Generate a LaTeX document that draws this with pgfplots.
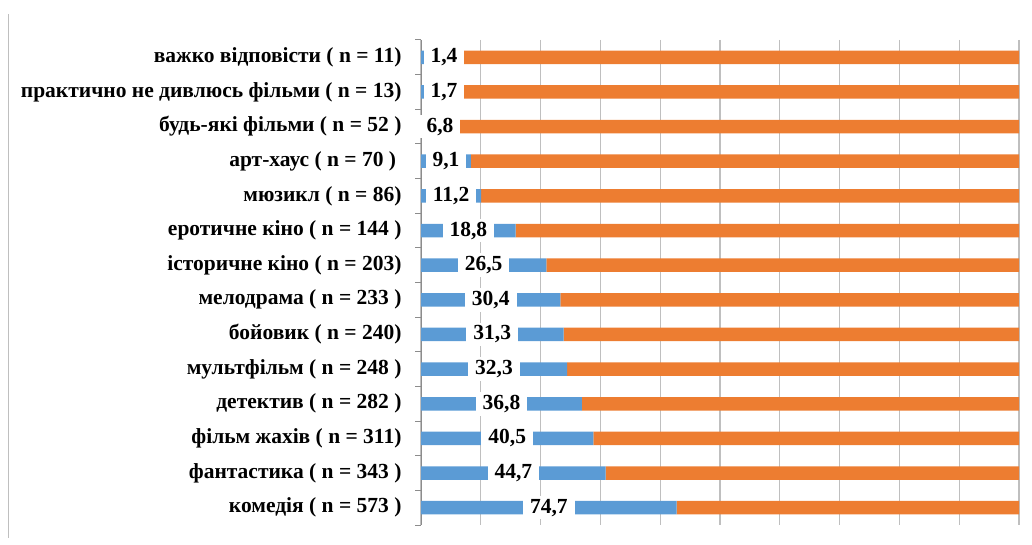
\documentclass[border=0pt]{standalone}
\usepackage{fontspec}
\setmainfont{Liberation Serif}
\usepackage{pgfplots}
\usepackage{pgfplotstable}
\pgfplotsset{compat=1.18}

\definecolor{xlblue}{HTML}{5B9BD5}
\definecolor{xlorange}{HTML}{ED7D31}
\definecolor{gridgray}{HTML}{BFBFBF}
\definecolor{axisgray}{HTML}{8C8C8C}

% y = row from top, v = share (%), rest = 100 (second segment), lmin = leftmost label centre
\pgfplotstableread{
y v rest lab lmin
0 1.4 100 1,4 3.85
1 1.7 100 1,7 3.85
2 6.8 100 6,8 0
3 9.1 100 9,1 0
4 11.2 100 11,2 0
5 18.8 100 18,8 0
6 26.5 100 26,5 0
7 30.4 100 30,4 0
8 31.3 100 31,3 0
9 32.3 100 32,3 0
10 36.8 100 36,8 0
11 40.5 100 40,5 0
12 44.7 100 44,7 0
13 74.7 100 74,7 0
}\films

\newcommand{\lblfont}{\fontsize{21.5}{25}\selectfont\bfseries}

\begin{document}
\begin{tikzpicture}
\useasboundingbox (0pt,0pt) rectangle (1032pt,545pt);
\draw[gridgray, line width=1pt] (8.5pt,7pt) -- (8.5pt,531pt);

\begin{axis}[
  at={(421pt,20pt)}, anchor=south west,
  scale only axis, width=598pt, height=485pt,
  xbar stacked, bar width=13.5pt,
  xmin=0, xmax=100, ymin=-0.5, ymax=13.5,
  y dir=reverse,
  axis lines*=left,
  x axis line style={draw=none},
  y axis line style={axisgray, line width=1pt},
  xtick={0,10,...,100}, xticklabels={},
  xtick style={draw=none},
  xmajorgrids, grid style={gridgray, line width=1.3pt},
  % ticks sit on the category boundaries, labels are moved to the centres
  ytick={-0.5,0.5,...,13.5},
  yticklabels={
    {важко відповісти ( n = 11)},
    {практично не дивлюсь фільми ( n = 13)},
    {будь-які фільми ( n = 52 )},
    {арт-хаус ( n = 70 )\ \ },
    {мюзикл ( n = 86)},
    {еротичне кіно ( n = 144 )},
    {історичне кіно ( n = 203)},
    {мелодрама ( n = 233 )\ },
    {бойовик ( n = 240)},
    {мультфільм ( n = 248 )},
    {детектив ( n = 282 )},
    {фільм жахів ( n = 311)},
    {фантастика ( n = 343 )},
    {комедія ( n = 573 )},
    {}},
  yticklabel style={font=\lblfont, xshift=-10pt, yshift=-17.32pt},
  major tick length=6pt, tick align=outside,
  ytick style={axisgray, line width=1pt},
]
\addplot[fill=xlblue, draw=none] table[x expr=\thisrow{v}/(\thisrow{v}+\thisrow{rest})*100, y=y]{\films};
\addplot[fill=xlorange, draw=none] table[x expr=\thisrow{rest}/(\thisrow{v}+\thisrow{rest})*100, y=y]{\films};
\end{axis}

% value labels, centred on the blue segment
\begin{axis}[
  at={(421pt,20pt)}, anchor=south west,
  scale only axis, width=598pt, height=485pt,
  xmin=0, xmax=100, ymin=-0.5, ymax=13.5,
  y dir=reverse, hide axis, clip=false,
]
\addplot[draw=none, mark=none, point meta=explicit symbolic,
  nodes near coords,
  every node near coord/.append style={anchor=center, fill=white, font=\lblfont,
    inner xsep=7pt, inner ysep=3pt, text=black}]
  table[x expr={max(\thisrow{v}/(\thisrow{v}+\thisrow{rest})*50,\thisrow{lmin})}, y=y, meta=lab]{\films};
\end{axis}
\end{tikzpicture}
\end{document}
